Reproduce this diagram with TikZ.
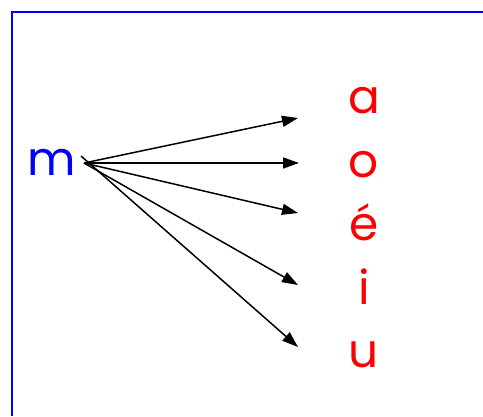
\documentclass[tikz,border=0pt]{standalone}
\usepackage{fontspec}
\setmainfont{Poppins}
\usetikzlibrary{arrows.meta}
\begin{document}
\begin{tikzpicture}[x=1pt,y=-1pt,
  letter/.style={anchor=base,inner sep=0pt,font=\fontsize{47}{55}\selectfont},
  vowel/.style={letter,text=red},
  arr/.style={line width=1.5pt,-{Triangle[length=16pt,width=11pt]}}]
\useasboundingbox (0,0) rectangle (483,416);
\draw[blue,line width=2pt] (483,11.5) -- (11.5,11.5) -- (11.5,416);
\node[letter,text=blue] (m) at (52,175) {m};
\node[vowel] (a) at (364,113) {a};
\node[vowel] (o) at (364,177) {o};
\node[vowel] (e) at (364,240) {é};
\node[vowel] (i) at (364,304) {i};
\node[vowel] (u) at (364,367) {u};
\coordinate (s) at (84,163);
\coordinate (s2) at (81,156);
\coordinate (ta) at (298,118);
\coordinate (to) at (299,163);
\coordinate (te) at (298,213);
\coordinate (ti) at (298,285);
\coordinate (tu) at (298,347);
\draw[arr] (s) -- (ta);
\draw[arr] (s) -- (to);
\draw[arr] (s) -- (te);
\draw[arr] (s) -- (ti);
\draw[arr] (s2) -- (tu);
\end{tikzpicture}
\end{document}
